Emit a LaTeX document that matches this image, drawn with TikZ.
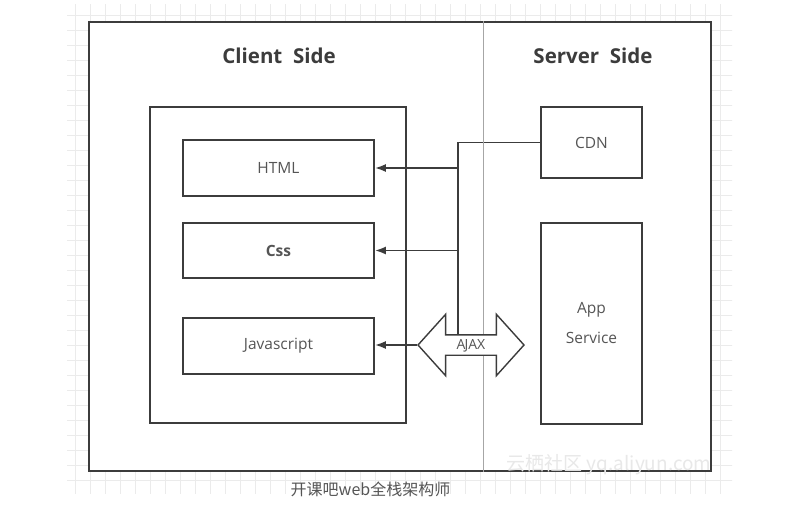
\documentclass[tikz,border=0pt]{standalone}
\usepackage{fontspec}
\setmainfont{Open Sans}
\newfontfamily\cjk{Noto Sans CJK SC}
\usepackage{xcolor}
\usepackage{tikz}
\usetikzlibrary{shapes,arrows,arrows.meta,backgrounds}
\definecolor{edge}{HTML}{3C3C3C}
\definecolor{label}{HTML}{555555}
\definecolor{gridc}{HTML}{EBEBEB}
\tikzstyle{frame} = [rectangle, draw=edge, line width=2.2pt]
\tikzstyle{block} = [rectangle, draw=edge, line width=1.8pt, text=label,
    font=\fontsize{15.5}{18}\selectfont]
\tikzstyle{title} = [text=edge, font=\bfseries\fontsize{20.5}{24}\selectfont]
\tikzstyle{line} = [draw=edge, line width=1.8pt, -{Latex[length=11pt, width=8pt]}]
\tikzstyle{bus} = [draw=edge, line width=1.8pt]
\tikzstyle{divider} = [draw=gray!70, line width=0.8pt]
\tikzstyle{ajax} = [double arrow, draw=edge, line width=1.4pt, fill=white, text=label,
    font=\fontsize{14}{16}\selectfont, text height=10pt, text depth=1pt,
    inner xsep=0pt, inner ysep=4pt, double arrow head extend=20.5pt,
    minimum height=106, double arrow tip angle=96]

\begin{document}
\begin{tikzpicture}[x=1pt, y=-1pt]
    \useasboundingbox (0,0) rectangle (788,512);
    % background grid and frame
    \begin{scope}[on background layer]
        \begin{scope}
            \clip (67,4) rectangle (732,493);
            \draw [gridc, line width=0.7pt, step=15pt] (60,0) grid (740,500);
        \end{scope}
        \node [frame, fill=white, minimum width=622, minimum height=449] (page) at (400,246.5) {};
    \end{scope}

    % Place nodes
    \node [title] (client_title) at (279,56) {Client\ \ Side};
    \node [title] (server_title) at (593,56) {Server\ \ Side};
    \coordinate (split) at (483,0);
    \path [divider] (page.north -| split) -- (page.south -| split);
    \node [frame, line width=1.8pt, minimum width=256, minimum height=316] (client) at (278,265) {};
    \node [block, minimum width=191, minimum height=56] (html) at (278.5,168) {HTML};
    \node [block, minimum width=191, minimum height=55, below of=html, node distance=82.5pt,
        font=\bfseries\fontsize{15.5}{18}\selectfont] (css) {Css};
    \node [block, minimum width=191, minimum height=56, below of=css, node distance=95.5pt] (js) {Javascript};
    \node [block, minimum width=101, minimum height=71] (cdn) at (591.5,142.5) {CDN};
    \node [block, minimum width=101, minimum height=201, below of=cdn, node distance=181pt,
        align=center, font=\fontsize{15.5}{30}\selectfont] (app) {App\\Service};
    \node [ajax] (ajax) at (471,345) {A\kern-1pt JAX};
    \node [text=gray!18, font=\cjk\fontsize{19}{22}\selectfont] (mark) at (609,465) {云栖社区 yq.aliyun.com};
    \node [text=label, font=\cjk\fontsize{16}{19}\selectfont] (caption) at (370.5,489) {开课吧web全栈架构师};

    \coordinate (bus) at (458,0);
    \begin{scope}[on background layer]
        \path [bus] (cdn.west) -| (bus |- ajax.center);
    \end{scope}
    \path [line] (bus |- html.east) -- (html.east);
    \path [line] (bus |- css.east) -- (css.east);
    \path [line] (ajax.west) -- (ajax.west -| js.east);
\end{tikzpicture}
\end{document}
